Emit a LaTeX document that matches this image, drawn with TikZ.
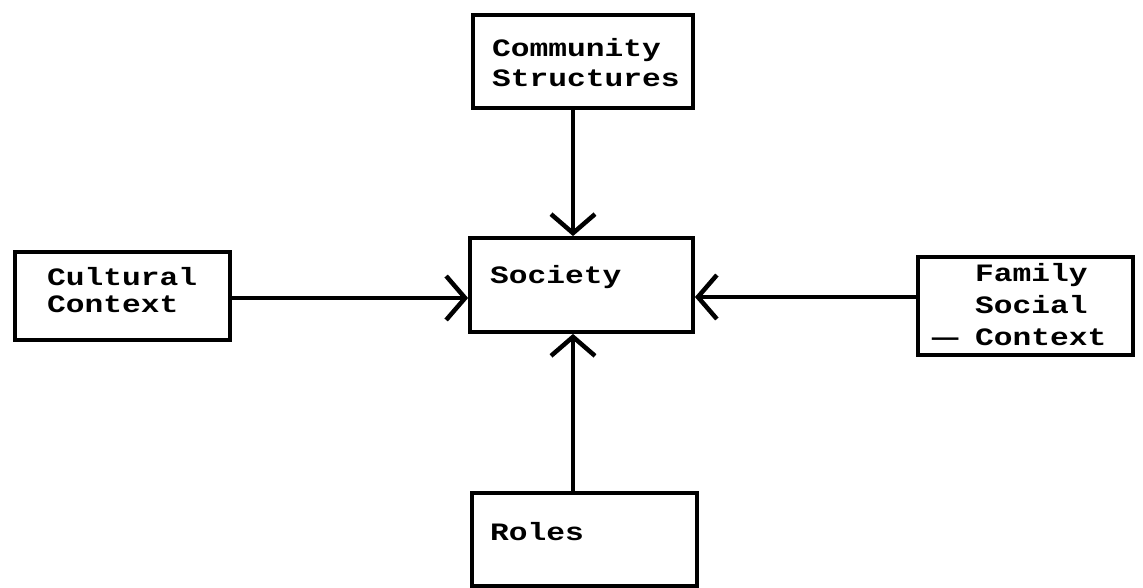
\documentclass[tikz,border=0pt]{standalone}
\usepackage{fontspec}
\setmainfont{Liberation Mono}
\newfontfamily\dotfont[FakeStretch=1.25]{Liberation Mono}
\usetikzlibrary{arrows.meta}
\tikzset{
  box/.style={draw=black, line width=3.8pt, fill=white, rectangle, inner sep=0pt},
  lbl/.style={anchor=base west, inner sep=0pt, align=left, font=\dotfont\bfseries\fontsize{25}{#1}\selectfont},
  lbl/.default=30,
  arr/.style={line width=3.5pt, -{Straight Barb[length=19pt,width=44pt,line width=4.5pt]}}
}
\begin{document}
\begin{tikzpicture}[x=1pt,y=-1pt]
\useasboundingbox (0,0) rectangle (1143,588);
% boxes
\node[box, minimum width=220pt, minimum height=93pt] (comm) at (583,61.5) {};
\node[box, minimum width=223pt, minimum height=94pt] (soc) at (581.5,285) {};
\node[box, minimum width=215pt, minimum height=88pt] (cult) at (122.5,296) {};
\node[box, minimum width=215pt, minimum height=98pt] (fam) at (1025.5,306) {};
\node[box, minimum width=225pt, minimum height=93pt] (roles) at (584.5,539.5) {};
% texts (base = baseline of last line)
\node[lbl=30] (commt) at (492,87) {Community\\Structures};
\node[lbl=27] (cultt) at (47,312) {Cultural\\Context};
\node[lbl] (soct) at (490,283) {Society};
\node[lbl=32] (famt) at (975,345) {Family\\Social\\Context};
\node[lbl] (dash) at (932,345) {\scalebox{1.4}[1]{—}};
\node[lbl] (rolest) at (490,540) {Roles};
% connectors
\draw[arr] ([xshift=-10pt]comm.south) -- ([xshift=-10pt]comm.south |- soc.north);
\draw[arr] ([yshift=-2pt]cult.east) -- ([yshift=-2pt]cult.east -| soc.west);
\draw[arr] ([yshift=9pt]fam.west) -- ([yshift=9pt]fam.west -| soc.east);
\draw[arr] ([xshift=-11.5pt]roles.north) -- ([xshift=-11.5pt]roles.north |- soc.south);
\end{tikzpicture}
\end{document}
